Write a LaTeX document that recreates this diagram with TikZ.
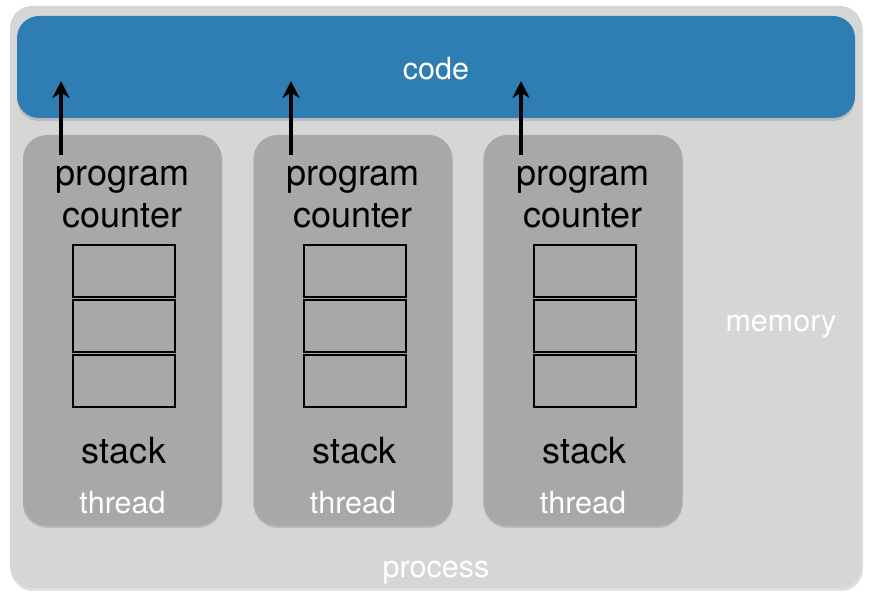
\documentclass[tikz,border=0pt]{standalone}
\usepackage{fontspec}
\setmainfont{TeX Gyre Heros}
\usetikzlibrary{arrows.meta}
\definecolor{procfill}{HTML}{D6D6D6}
\definecolor{threadfill}{HTML}{A6A9A8}
\definecolor{codefill}{HTML}{2E7DB3}
\begin{document}
\begin{tikzpicture}[x=1pt,y=-1pt,
  procbox/.style={fill=procfill,rounded corners=22pt},
  codebox/.style={fill=codefill,rounded corners=22pt},
  threadbox/.style={fill=threadfill,rounded corners=24pt},
  cell/.style={draw=black,line width=2pt,fill=threadfill,minimum width=102pt,minimum height=52pt,inner sep=0pt},
  blacktxt/.style={font=\fontsize{36}{42}\selectfont,text=black,anchor=base,inner sep=0pt},
  whitetxt/.style={font=\fontsize{30.5}{36}\selectfont,text=white,anchor=base,inner sep=0pt},
  pcarrow/.style={line width=3.2pt,-{Stealth[length=17pt,width=17pt]}},
  shadow/.style={fill=black,opacity=0.12,rounded corners=22pt}]
\useasboundingbox (0,0) rectangle (871,593);
% process
\fill[shadow] (11,8) rectangle (863,591);
\node[procbox,minimum width=852pt,minimum height=582pt,inner sep=0pt] (process) at (436,297) {};
% code
\fill[shadow] (17,18) rectangle (855,121);
\node[codebox,minimum width=838pt,minimum height=102pt,inner sep=0pt] (code) at (436,67) {};
\node[whitetxt] (codetxt) at (436,80) {code};
\node[whitetxt] (memory) at (781,332) {memory};
\node[whitetxt] (proctxt) at (436,578) {process};
\foreach \i/\cx/\ax in {1/122.5/61, 2/353/291, 3/583/521}{
  \fill[shadow,rounded corners=24pt] (\cx-99.5,137) rectangle (\cx+99.5,528);
  \node[threadbox,minimum width=199pt,minimum height=391pt,inner sep=0pt] (thread\i) at (\cx,330.5) {};
  \node[blacktxt] (prog\i) at (\cx,186) {program};
  \node[blacktxt] (count\i) at (\cx,228) {counter};
  \node[cell] (cellA\i) at (\cx+1.5,271) {};
  \node[cell] (cellB\i) at (\cx+1.5,326) {};
  \node[cell] (cellC\i) at (\cx+1.5,381) {};
  \node[blacktxt] (stack\i) at (\cx+1.5,464) {stack};
  \node[whitetxt] (thr\i) at (\cx,514) {thread};
  \coordinate (from\i) at (\ax,155);
  \coordinate (to\i) at (\ax,81);
  \draw[pcarrow] (from\i) -- (to\i);
}
\end{tikzpicture}
\end{document}
